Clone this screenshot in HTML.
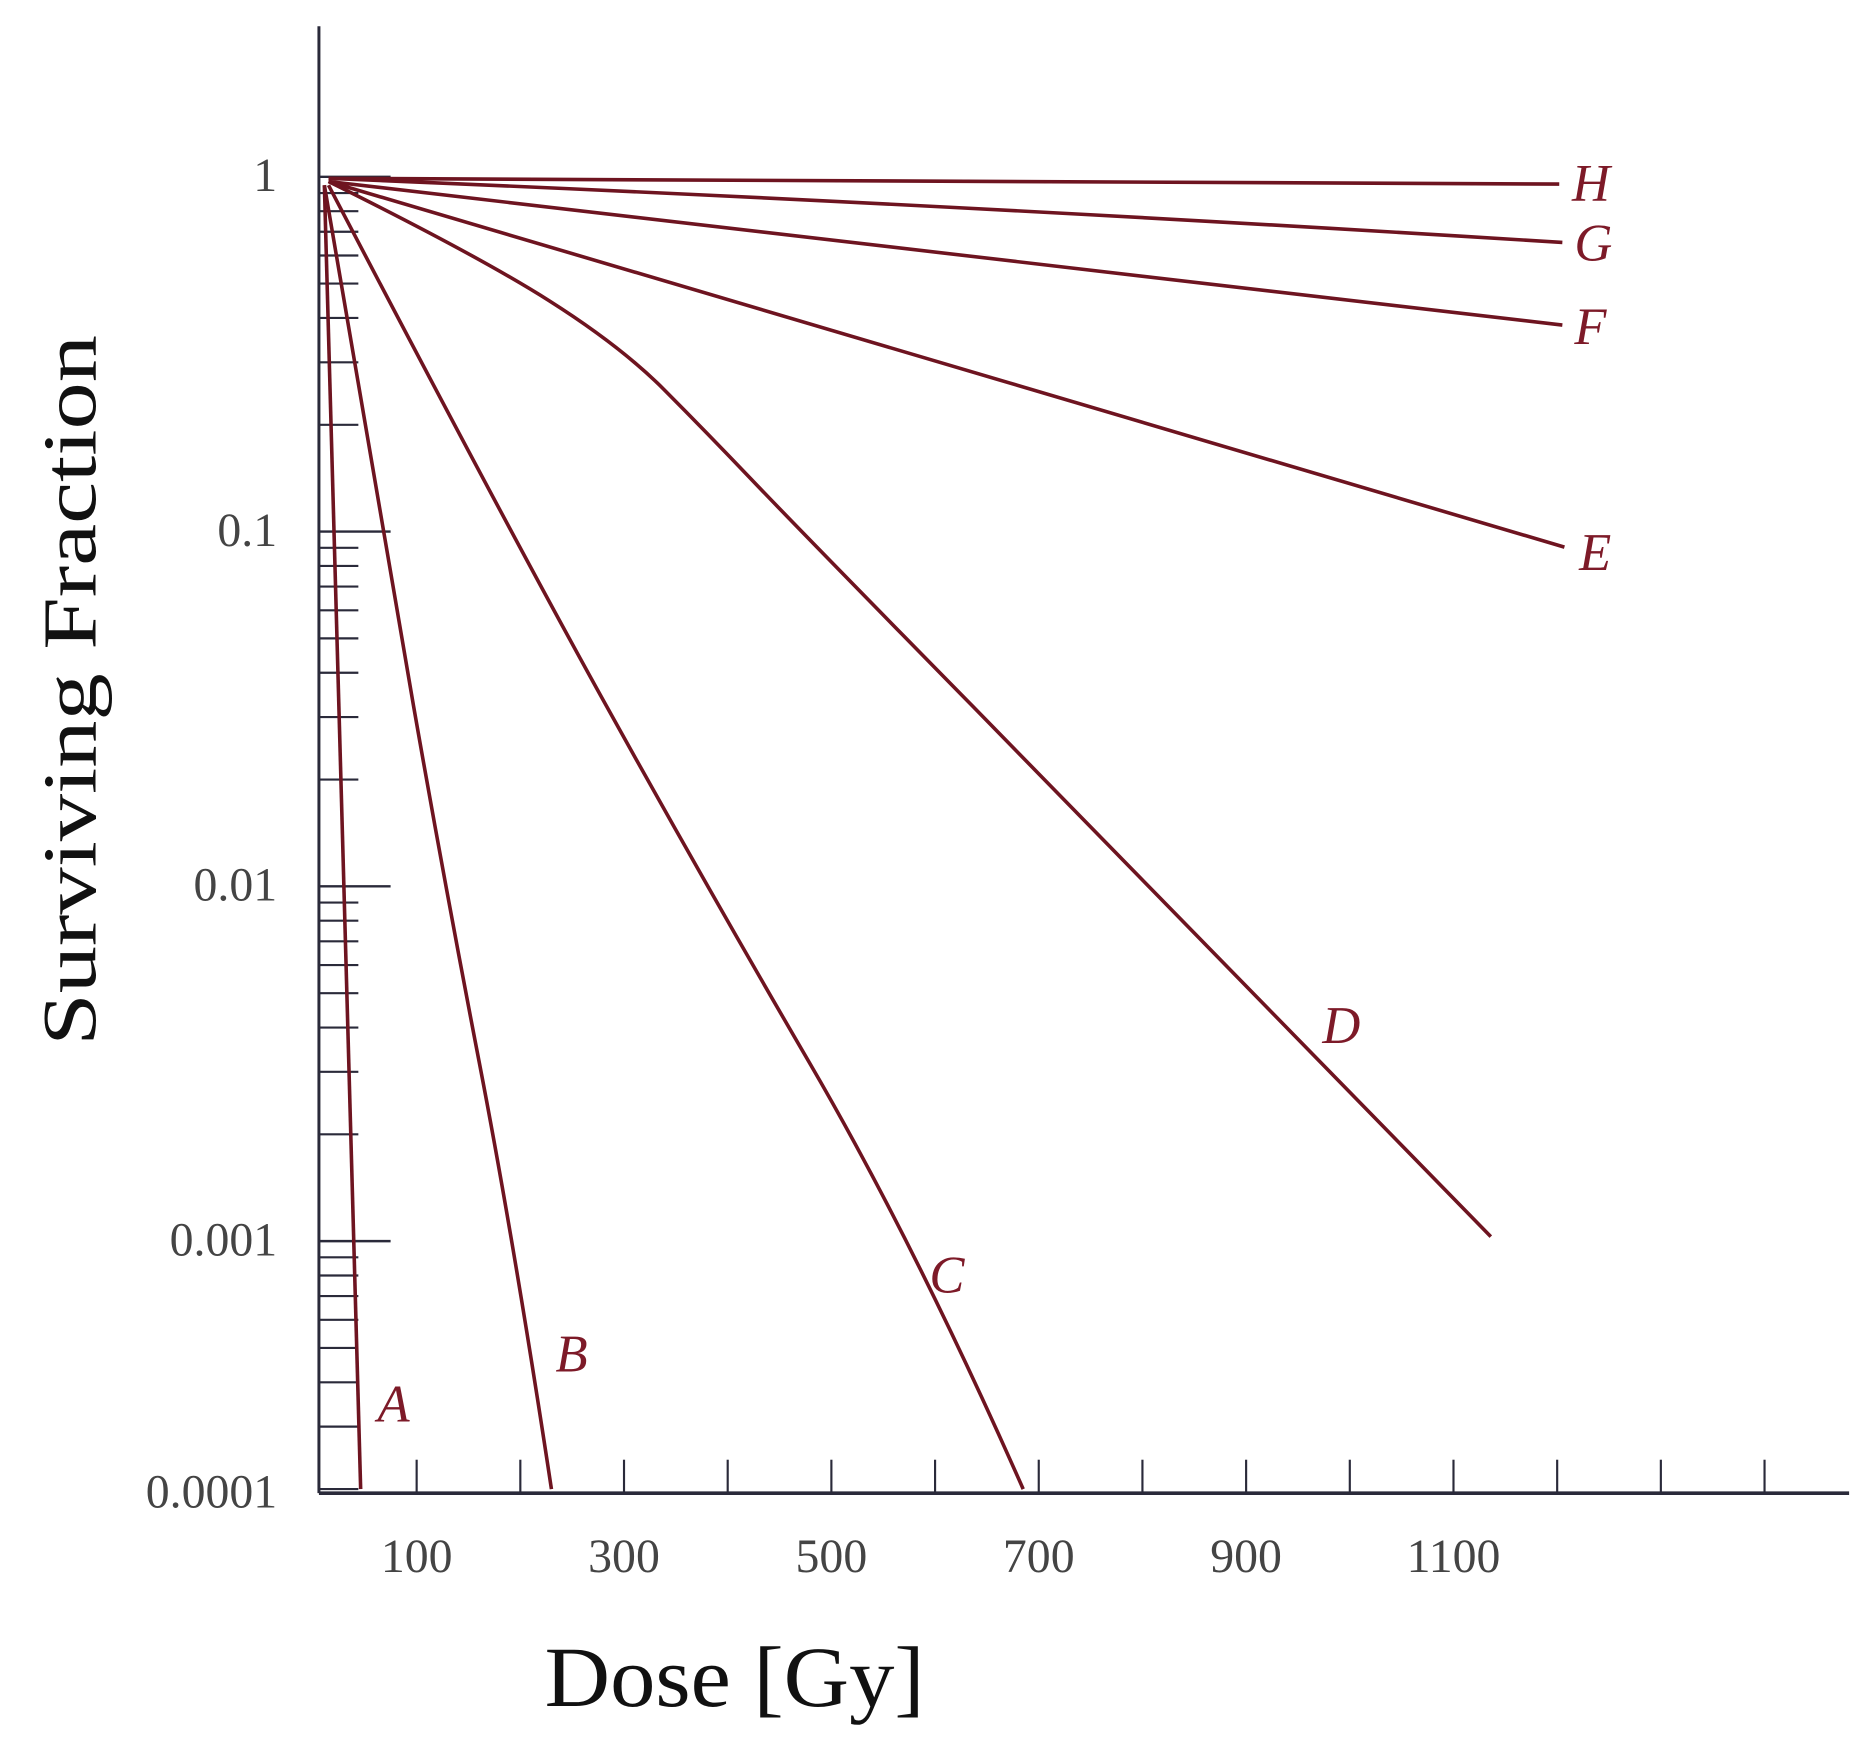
<!DOCTYPE html>
<html><head><meta charset="utf-8"><style>
html,body{margin:0;padding:0;background:#fff;}
svg{display:block;}
</style></head><body>
<svg id="chart" width="1873" height="1750" viewBox="0 0 1568 1465" xmlns="http://www.w3.org/2000/svg">
<rect width="1568" height="1465" fill="#fff"/>
<g id="axes"></g>
<g id="series"></g>
<text transform="translate(80,578) rotate(-90)" text-anchor="middle" font-family="Liberation Serif, serif" font-size="64" fill="#111" textLength="595" lengthAdjust="spacingAndGlyphs">Surviving Fraction</text>
<text x="615" y="1428" text-anchor="middle" font-family="Liberation Serif, serif" font-size="72" fill="#111" textLength="318" lengthAdjust="spacingAndGlyphs">Dose [Gy]</text>
</svg>
<script>
const xTicks = [100,200,300,400,500,600,700,800,900,1000,1100,1200,1300,1400];
const xTickLabels = ["100","300","500","700","900","1100"];
const yMajor = [1,0.1,0.01,0.001];
const yMajorLabels = ["1","0.1","0.01","0.001"];
const seriesNames = ["A","B","C","D","E","F","G","H"];
const doseA = [11,30,46];                         const sfA = [0.947,0.0102,0.0002];
const doseB = [11,67,127,194,230];                const sfB = [0.947,0.102,0.0102,0.00099,0.0002];
const doseC = [15,188,378,580,685];               const sfC = [0.947,0.102,0.0102,0.00099,0.0002];
const doseD = [15,159,297,380,468,804,1136];      const sfD = [0.97,0.6,0.333,0.19,0.102,0.0102,0.00103];
const doseE = [15,611,1207];                      const sfE = [0.97,0.296,0.0904];
const doseF = [15,610,1205];                      const sfF = [0.97,0.609,0.382];
const doseG = [15,600,1205];                      const sfG = [0.99,0.843,0.653];
const doseH = [15,1202];                          const sfH = [0.99,0.954];

const labelPos=[[316,1190],[465,1148],[778,1082],[1107,873],[1322,477],[1318,288],[1318,218],[1316,168]];
const X0=262, XS=0.868, Y1=148, DEC=297, AXB=1250, AXL=267;
const xs = d => X0 + d*XS;
const ys = v => Y1 - DEC*Math.log10(v);
const NS="http://www.w3.org/2000/svg";
const axes=document.getElementById('axes'), ser=document.getElementById('series');
function mk(tag, attrs, parent){const e=document.createElementNS(NS,tag);for(const k in attrs)e.setAttribute(k,attrs[k]);parent.appendChild(e);return e;}

let e;
e=mk('line',{x1:AXL,y1:22,x2:AXL,y2:AXB,stroke:'#2a2a3a','stroke-width':2.5},axes);


e=mk('line',{x1:AXL,y1:AXB,x2:1548,y2:AXB,stroke:'#2a2a3a','stroke-width':3},axes);



xTicks.forEach(d=>{
  const t=mk('line',{x1:xs(d),y1:AXB-28,x2:xs(d),y2:AXB,stroke:'#2a2a3a','stroke-width':1.8},axes);
  
  
});
xTickLabels.forEach(s=>{
  const t=mk('text',{x:xs(+s),y:1316,'text-anchor':'middle','font-family':'Liberation Serif, serif','font-size':40,fill:'#444'},axes);
  t.textContent=s;
  
  
});
yMajor.forEach((v,i)=>{
  const t=mk('line',{x1:AXL,y1:ys(v),x2:327,y2:ys(v),stroke:'#2a2a3a','stroke-width':2},axes);
  
  
  const l=mk('text',{x:232,y:ys(v)+12,'text-anchor':'end','font-family':'Liberation Serif, serif','font-size':40,fill:'#444'},axes);
  l.textContent=yMajorLabels[i];
  
  
  for(let m=2;m<=9;m++){
    const y=ys(v*m/10);
    if(y>AXB-2) continue;
    const mt=mk('line',{x1:AXL,y1:y,x2:300,y2:y,stroke:'#2a2a3a','stroke-width':1.8},axes);
    
    
  }
});
e=mk('text',{x:232,y:AXB+12,'text-anchor':'end','font-family':'Liberation Serif, serif','font-size':40,fill:'#444'},axes);
e.textContent='0.0001';



function midSmooth(pts){
  if(pts.length<3) return 'M'+pts.map(p=>p.join(',')).join(' L');
  let d='M'+pts[0].join(',');
  for(let i=1;i<pts.length-1;i++){
    const m=[(pts[i][0]+pts[i+1][0])/2,(pts[i][1]+pts[i+1][1])/2];
    const end=(i===pts.length-2)?pts[i+1]:m;
    d+=' Q'+pts[i].join(',')+' '+end.join(',');
  }
  return d;
}
const allDose=[doseA,doseB,doseC,doseD,doseE,doseF,doseG,doseH];
const allSf=[sfA,sfB,sfC,sfD,sfE,sfF,sfG,sfH];
allDose.forEach((ds,i)=>{
  const sf=allSf[i];
  const pts=ds.map((d,j)=>[xs(d), Math.min(ys(sf[j]),AXB)]);
  const p=mk('path',{d:midSmooth(pts),fill:'none',stroke:'#6e1420','stroke-width':3,'stroke-linejoin':'round'},ser);
  
  
  const t=mk('text',{x:labelPos[i][0],y:labelPos[i][1],'font-family':'Liberation Serif, serif','font-style':'italic','font-size':44,fill:'#7d1a28'},ser);
  t.textContent=seriesNames[i];
  
  
});
</script>
</body></html>
